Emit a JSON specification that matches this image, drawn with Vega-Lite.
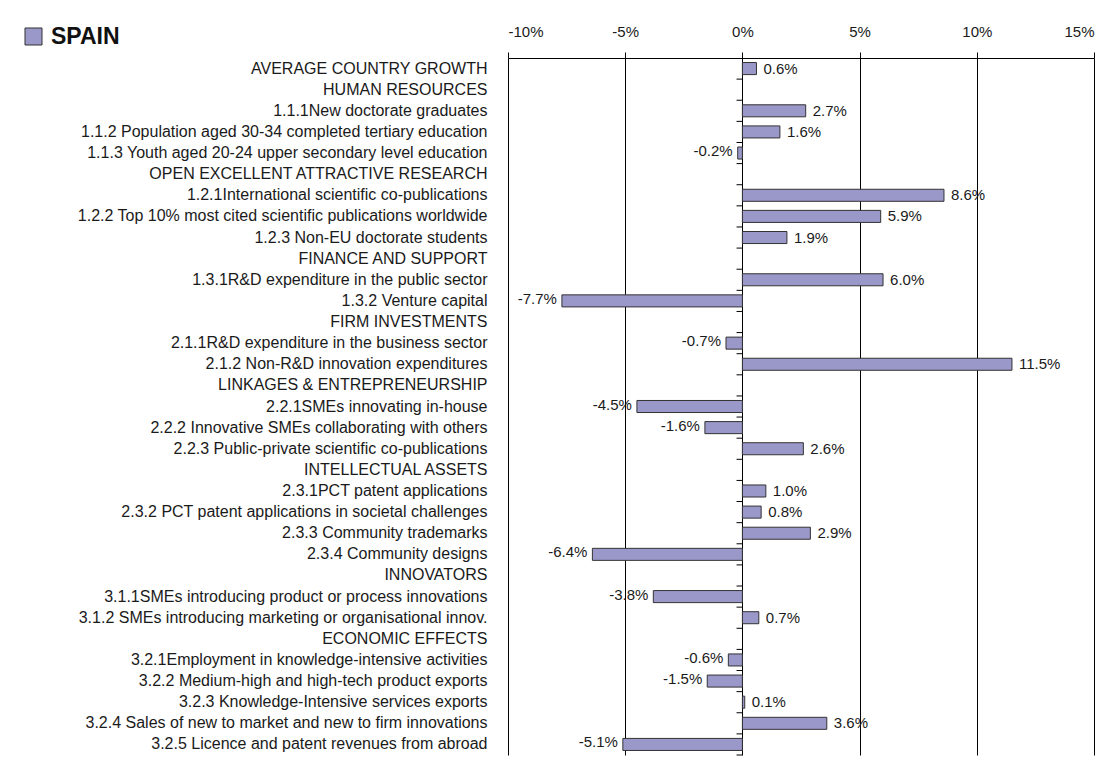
{
  "$schema": "https://vega.github.io/schema/vega-lite/v6.json",
  "autosize": "none",
  "width": 586,
  "height": 697,
  "padding": {"left": 508, "top": 58, "right": 25, "bottom": 8},
  "background": "white",
  "config": {
    "locale": {"number": {"decimal": ".", "thousands": ",", "grouping": [3], "currency": ["$", ""], "minus": "-"}},
    "view": {"stroke": null},
    "font": "Liberation Sans"
  },
  "data": {
    "values": [
      {"label": "AVERAGE COUNTRY GROWTH", "v": 0.006},
      {"label": "HUMAN RESOURCES", "v": null},
      {"label": "1.1.1New doctorate graduates", "v": 0.027},
      {"label": "1.1.2 Population aged 30-34 completed tertiary education", "v": 0.016},
      {"label": "1.1.3 Youth aged 20-24 upper secondary level education", "v": -0.002},
      {"label": "OPEN EXCELLENT ATTRACTIVE RESEARCH", "v": null},
      {"label": "1.2.1International scientific co-publications", "v": 0.086},
      {"label": "1.2.2 Top 10% most cited scientific publications worldwide", "v": 0.059},
      {"label": "1.2.3 Non-EU doctorate students", "v": 0.019},
      {"label": "FINANCE AND SUPPORT", "v": null},
      {"label": "1.3.1R&D expenditure in the public sector", "v": 0.060},
      {"label": "1.3.2 Venture capital", "v": -0.077},
      {"label": "FIRM INVESTMENTS", "v": null},
      {"label": "2.1.1R&D expenditure in the business sector", "v": -0.007},
      {"label": "2.1.2 Non-R&D innovation expenditures", "v": 0.115},
      {"label": "LINKAGES & ENTREPRENEURSHIP", "v": null},
      {"label": "2.2.1SMEs innovating in-house", "v": -0.045},
      {"label": "2.2.2 Innovative SMEs collaborating with others", "v": -0.016},
      {"label": "2.2.3 Public-private scientific co-publications", "v": 0.026},
      {"label": "INTELLECTUAL ASSETS", "v": null},
      {"label": "2.3.1PCT patent applications", "v": 0.010},
      {"label": "2.3.2 PCT patent applications in societal challenges", "v": 0.008},
      {"label": "2.3.3 Community trademarks", "v": 0.029},
      {"label": "2.3.4 Community designs", "v": -0.064},
      {"label": "INNOVATORS", "v": null},
      {"label": "3.1.1SMEs introducing product or process innovations", "v": -0.038},
      {"label": "3.1.2 SMEs introducing marketing or organisational innov.", "v": 0.007},
      {"label": "ECONOMIC EFFECTS", "v": null},
      {"label": "3.2.1Employment in knowledge-intensive activities", "v": -0.006},
      {"label": "3.2.2 Medium-high and high-tech product exports", "v": -0.015},
      {"label": "3.2.3 Knowledge-Intensive services exports", "v": 0.001},
      {"label": "3.2.4 Sales of new to market and new to firm innovations", "v": 0.036},
      {"label": "3.2.5 Licence and patent revenues from abroad", "v": -0.051}
    ]
  },
  "layer": [
    {
      "mark": {"type": "text", "text": ""},
      "encoding": {
        "y": {
          "field": "label", "type": "nominal", "sort": null,
          "scale": {"paddingInner": 0, "paddingOuter": 0},
          "axis": {
            "title": null, "domain": false, "ticks": false, "labelPadding": 21,
            "labelFont": "Liberation Sans", "labelFontSize": 16, "labelColor": "#1a1a1a",
            "labelLimit": 600
          }
        }
      }
    },
    {
      "mark": {"type": "bar", "height": {"band": 0.57}, "fill": "#9a98c9", "stroke": "#333333", "strokeWidth": 1},
      "encoding": {
        "y": {"field": "label", "type": "nominal", "sort": null},
        "x": {
          "field": "v", "type": "quantitative",
          "scale": {"domain": [-0.10, 0.15], "nice": false, "zero": false},
          "axis": {
            "orient": "top", "title": null, "values": [-0.10, -0.05, 0, 0.05, 0.10, 0.15],
            "format": ".0%", "grid": true, "gridColor": "#000000", "gridOpacity": 1, "gridWidth": 1,
            "domainColor": "#000000", "domainWidth": 1, "tickColor": "#000000", "tickSize": 6,
            "labelPadding": 13, "labelFont": "Liberation Sans", "labelFontSize": 15, "labelColor": "#1a1a1a"
          }
        },
        "fill": {
          "datum": "SPAIN", "type": "nominal",
          "scale": {"range": ["#9a98c9"]},
          "legend": {
            "title": null, "orient": "none", "legendX": -486, "legendY": -33,
            "symbolType": "square", "symbolSize": 290, "symbolStrokeColor": "#333333", "symbolStrokeWidth": 1,
            "labelFontSize": 23, "labelFontWeight": "bold", "labelColor": "#111111", "labelFont": "Liberation Sans",
            "labelOffset": 6
          }
        }
      }
    },
    {
      "mark": {"type": "rule", "color": "#000000", "strokeWidth": 1},
      "encoding": {
        "y": {"field": "label", "type": "nominal", "sort": null, "bandPosition": 1},
        "x": {"datum": 0},
        "x2": {"datum": -0.0025}
      }
    },
    {
      "transform": [{"filter": "datum.v != null && datum.v >= 0"}],
      "mark": {"type": "text", "align": "left", "dx": 7, "fontSize": 15, "color": "#1a1a1a", "font": "Liberation Sans"},
      "encoding": {
        "y": {"field": "label", "type": "nominal", "sort": null},
        "x": {"field": "v", "type": "quantitative"},
        "text": {"field": "v", "type": "quantitative", "format": ".1%"}
      }
    },
    {
      "transform": [{"filter": "datum.v != null && datum.v < 0"}],
      "mark": {"type": "text", "align": "right", "dx": -5, "dy": -2, "fontSize": 15, "color": "#1a1a1a", "font": "Liberation Sans"},
      "encoding": {
        "y": {"field": "label", "type": "nominal", "sort": null},
        "x": {"field": "v", "type": "quantitative"},
        "text": {"field": "v", "type": "quantitative", "format": ".1%"}
      }
    }
  ]
}
